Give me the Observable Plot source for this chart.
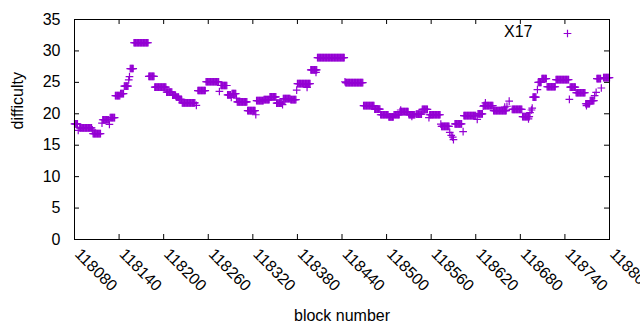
<!DOCTYPE html>
<html><head><meta charset="utf-8">
<script src="https://cdn.jsdelivr.net/npm/d3@7"></script>
<script src="https://cdn.jsdelivr.net/npm/@observablehq/plot@0.6"></script>
<style>body{margin:0;background:#fff}</style>
</head><body><div id="chart"></div>
<script>
// Runs of consecutive blocks sharing one difficulty value (single points have from == to)
const blockFrom = [118080,118085,118087,118104,118105,118117,118118,118127,118128,118135,118142,118147,118153,118154,118155,118160,118180,118188,118204,118212,118217,118221,118225,118244,118246,118257,118275,118277,118286,118291,118292,118298,118299,118313,118324,118325,118335,118343,118352,118360,118361,118371,118379,118380,118393,118398,118405,118407,118444,118445,118469,118484,118492,118503,118510,118518,118519,118530,118534,118540,118548,118557,118558,118573,118574,118585,118587,118589,118590,118592,118603,118604,118622,118623,118630,118631,118633,118644,118659,118662,118665,118669,118683,118691,118693,118695,118696,118697,118703,118704,118709,118716,118728,118746,118747,118755,118768,118769,118774,118780,118782,118783,118789,118792];
const blockTo   = [118084,118085,118103,118104,118115,118117,118126,118127,118134,118141,118146,118152,118153,118154,118159,118179,118187,118203,118211,118216,118220,118224,118242,118244,118256,118274,118275,118285,118290,118291,118297,118298,118312,118323,118324,118334,118342,118351,118359,118360,118370,118378,118379,118397,118393,118406,118405,118443,118444,118468,118483,118491,118502,118509,118517,118529,118519,118538,118534,118547,118555,118557,118572,118573,118584,118585,118587,118589,118590,118601,118603,118620,118622,118629,118630,118643,118633,118661,118659,118662,118665,118682,118692,118691,118693,118695,118696,118701,118703,118708,118715,118727,118745,118746,118754,118767,118773,118769,118779,118780,118782,118788,118789,118800];
const difficulty = [18.4,17.35,17.75,17.45,16.85,18.5,19.05,18.3,19.4,22.9,23.2,24.4,25.4,25.9,27.2,31.3,25.95,24.25,23.45,22.95,22.65,22.3,21.75,21.35,23.7,25.1,23.55,24.5,23.0,22.6,23.2,22.5,21.9,20.5,19.85,22.08,22.25,22.7,21.7,21.45,22.4,22.25,23.75,24.8,24.2,27.0,26.6,28.93,25.1,24.95,21.3,20.75,19.85,19.5,19.85,20.35,20.6,19.85,19.6,19.95,20.7,19.4,19.85,18.35,18.0,17.05,16.55,16.3,15.9,18.4,17.15,19.7,19.1,20.0,21.2,21.3,21.75,20.5,21.05,21.2,22.0,20.7,19.55,19.2,20.2,20.6,20.9,22.65,23.85,25.0,25.6,24.3,25.43,22.3,24.25,23.35,21.6,21.3,22.08,22.9,23.4,25.6,24.1,25.75];
const xTicks = [118080,118140,118200,118260,118320,118380,118440,118500,118560,118620,118680,118740,118800];
const yTicks = [0,5,10,15,20,25,30,35];
const seriesName = "X17";
const xTitle = "block number";
const yTitle = "difficulty";

const points = [];
blockFrom.forEach((b0, i) => {
  for (let b = b0; b <= blockTo[i]; b++) points.push({block: b, difficulty: difficulty[i]});
});

const purple = "#9400d3";
const W = 640, H = 330, mt = 19, mb = 91, ml = 74, mr = 31;
const fw = W - ml - mr, fh = H - mt - mb;
const markR = 2.6;

const chart = Plot.plot({
  width: W, height: H,
  marginTop: mt, marginBottom: mb, marginLeft: ml, marginRight: mr,
  style: {fontFamily: "'Liberation Sans', Arial, sans-serif", fontSize: "16px", background: "#fff", color: "#000", overflow: "hidden"},
  x: {domain: [118080, 118800], axis: null},
  y: {domain: [0, 35], axis: null},
  marks: [
    Plot.dot(points, {x: "block", y: "difficulty", symbol: "plus", r: markR, stroke: purple, strokeWidth: 1.2}),
    Plot.tickX(xTicks, {x: d => d, insetTop: fh - 5, stroke: "black"}),
    Plot.tickX(xTicks, {x: d => d, insetBottom: fh - 5, stroke: "black"}),
    Plot.tickY(yTicks, {y: d => d, insetRight: fw - 5, stroke: "black"}),
    Plot.tickY(yTicks, {y: d => d, insetLeft: fw - 5, stroke: "black"}),
    Plot.frame({stroke: "black"}),
    Plot.text(yTicks, {y: d => d, text: d => String(d), frameAnchor: "left", textAnchor: "end", lineAnchor: "middle", dx: -14}),
    Plot.text(xTicks, {x: d => d, text: d => String(d), frameAnchor: "bottom", textAnchor: "start", lineAnchor: "middle", rotate: 45, dx: 3, dy: 12}),
    Plot.text([yTitle], {frameAnchor: "left", rotate: -90, lineAnchor: "middle", dx: -57}),
    Plot.text([xTitle], {frameAnchor: "bottom", lineAnchor: "middle", dy: 76}),
    Plot.text([seriesName], {frameAnchor: "top-right", textAnchor: "end", lineAnchor: "middle", dx: -77, dy: 12}),
    Plot.dot([seriesName], {frameAnchor: "top-right", dx: -42, dy: 14, symbol: "plus", r: markR, stroke: purple, strokeWidth: 1.2})
  ]
});
document.getElementById("chart").appendChild(chart);
</script>
</body></html>
